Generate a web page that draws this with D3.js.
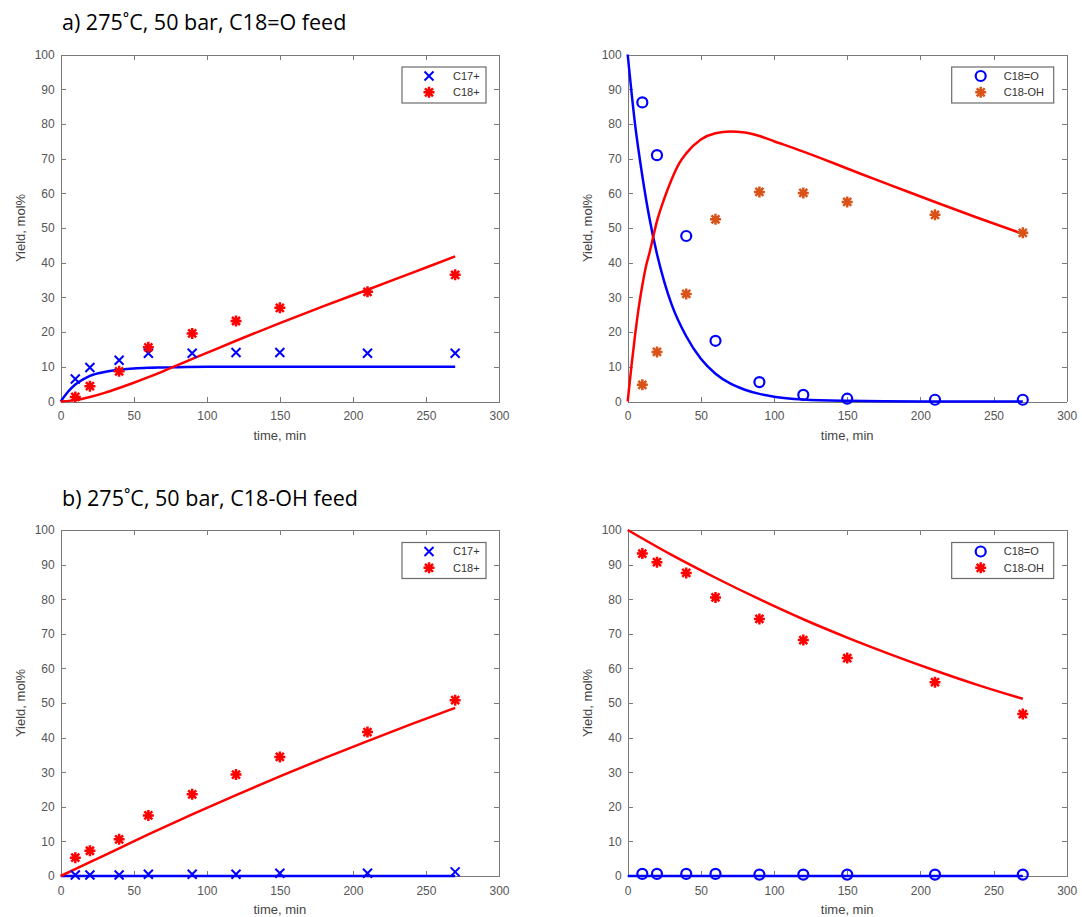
<!DOCTYPE html>
<meta charset="utf-8">
<style>
body { margin: 0; background: #fff; }
.axis path, .axis line { fill: none; stroke: #7a7a7a; shape-rendering: crispEdges; }
.axis text { fill: #555; font: 12px "Liberation Sans", Arial, sans-serif; }
.label { fill: #444; font: 13px "Liberation Sans", Arial, sans-serif; }
.title { fill: #000; font: 21.5px "Open Sans", sans-serif; }
.legend text { fill: #333; font: 11px "Liberation Sans", Arial, sans-serif; }
</style>
<body>
<script src="https://d3js.org/d3.v7.min.js"></script>
<script>

// sample times, min
var times = [10, 20, 40, 60, 90, 120, 150, 210, 270];

// a) C18=O feed - measured
var aC17 = [6.5, 9.8, 11.9, 13.9, 13.9, 14.1, 14.1, 13.9, 13.9];
var aC18 = [1.3, 4.4, 8.7, 15.6, 19.6, 23.2, 27.0, 31.6, 36.5];
var aC18O = [86.2, 71.0, 47.7, 17.5, 5.6, 1.9, 0.8, 0.5, 0.5];
var aC18OH = [4.8, 14.3, 31.0, 52.5, 60.4, 60.1, 57.5, 53.8, 48.6];

// a) model curves
var aC17FitT = [0, 5, 10, 15, 20, 30, 40, 50, 60, 70, 80, 100, 150, 200, 270];
var aC17Fit = [0, 2.8, 4.9, 6.3, 7.4, 8.5, 9.1, 9.5, 9.7, 9.8, 9.9, 10, 10, 10, 10];
var aC18FitT = [0, 10, 20, 30, 40, 50, 60, 70, 80, 100, 120, 150, 180, 210, 240, 270];
var aC18Fit = [0, 0.4, 1.3, 2.5, 3.9, 5.4, 7.0, 8.7, 10.5, 14.0, 17.5, 22.6, 27.5, 32.2, 37.0, 41.8];
var aC18OFitT = [0, 5, 10, 15, 20, 25, 30, 40, 50, 60, 70, 80, 90, 100, 120, 150, 200, 270];
var aC18OFit = [100, 80, 65, 52.5, 42.5, 34.5, 28, 18.8, 12.3, 8, 5.2, 3.4, 2.2, 1.4, 0.6, 0.2, 0, 0];
var aC18OHFitT = [0, 2.5, 5, 7.5, 10, 12.5, 15, 20, 25, 30, 35, 40, 50, 60, 70, 80, 90, 100, 120, 140, 160, 180, 210, 240, 270];
var aC18OHFit = [0, 10, 19, 27, 33.5, 39, 43, 52, 58.5, 64, 68.5, 71.5, 75.5, 77.3, 77.8, 77.5, 76.5, 75, 72, 68.8, 65.5, 62.3, 57.5, 52.8, 48.3];

// b) C18-OH feed - measured
var bC17 = [0.3, 0.3, 0.3, 0.5, 0.5, 0.5, 0.8, 0.8, 1.2];
var bC18 = [5.3, 7.3, 10.6, 17.5, 23.6, 29.3, 34.4, 41.6, 50.8];
var bC18O = [0.6, 0.6, 0.6, 0.6, 0.4, 0.4, 0.4, 0.4, 0.4];
var bC18OH = [93.2, 90.7, 87.6, 80.5, 74.3, 68.2, 63.0, 56.0, 46.8];

// b) model curves
var bFitT = [0, 20, 40, 60, 90, 120, 150, 180, 210, 240, 270];
var bC17Fit = [0, 0, 0, 0, 0, 0, 0, 0, 0, 0, 0];
var bC18Fit = [0, 4.0, 8.0, 12.0, 17.8, 23.4, 28.8, 34.0, 39.0, 43.9, 48.6];
var bC18OFit = [0, 0, 0, 0, 0, 0, 0, 0, 0, 0, 0];
var bC18OHFitT = [0, 30, 60, 90, 120, 150, 180, 210, 240, 270];
var bC18OHFit = [100, 92.8, 86.2, 80, 74.2, 68.9, 64, 59.4, 55.1, 51.2];

var xTicks = [0, 50, 100, 150, 200, 250, 300];
var yTicks = [0, 10, 20, 30, 40, 50, 60, 70, 80, 90, 100];

var blue = "#0000ff", red = "#ff0000", orange = "#d95319";

var svg = d3.select("body").append("svg")
    .attr("width", 1082)
    .attr("height", 917);

svg.append("rect").attr("width", 1082).attr("height", 917).attr("fill", "#fff");

svg.append("text").attr("class", "title").attr("x", 62).attr("y", 30)
    .text("a) 275\u02DAC, 50 bar, C18=O feed");
svg.append("text").attr("class", "title").attr("x", 62).attr("y", 506)
    .text("b) 275\u02DAC, 50 bar, C18-OH feed");

function zip(t, v) { return t.map(function(d, i) { return [d, v[i]]; }); }

function marker(g, type, color, cx, cy) {
  if (type == "x") {
    g.append("path").attr("d", "M-4.5,-4.5L4.5,4.5M-4.5,4.5L4.5,-4.5")
      .attr("transform", "translate(" + cx + "," + cy + ")")
      .attr("stroke", color).attr("stroke-width", 2).attr("fill", "none");
  } else if (type == "o") {
    g.append("circle").attr("cx", cx).attr("cy", cy).attr("r", 5)
      .attr("stroke", color).attr("stroke-width", 2.2).attr("fill", "none");
  } else {
    g.append("path").attr("d", "M0,-5.5L0,5.5M-5.5,0L5.5,0M-4,-4L4,4M-4,4L4,-4")
      .attr("transform", "translate(" + cx + "," + cy + ")")
      .attr("stroke", color).attr("stroke-width", 2.5).attr("fill", "none");
  }
}

function panel(p) {
  var x = d3.scaleLinear().domain([0, 300]).range([p.x0, p.x1]);
  var y = d3.scaleLinear().domain([0, 100]).range([p.y1, p.y0]);
  var g = svg.append("g");

  g.append("g").attr("class", "axis")
      .attr("transform", "translate(0," + p.y1 + ")")
      .call(d3.axisBottom(x).tickValues(xTicks).tickSizeInner(-5).tickSizeOuter(0).tickPadding(10));
  g.append("g").attr("class", "axis")
      .attr("transform", "translate(0," + p.y0 + ")")
      .call(d3.axisTop(x).tickValues(xTicks).tickSizeInner(-5).tickSizeOuter(0).tickFormat(""));
  g.append("g").attr("class", "axis")
      .attr("transform", "translate(" + p.x0 + ",0)")
      .call(d3.axisLeft(y).tickValues(yTicks).tickSizeInner(-5).tickSizeOuter(0).tickPadding(6));
  g.append("g").attr("class", "axis")
      .attr("transform", "translate(" + p.x1 + ",0)")
      .call(d3.axisRight(y).tickValues(yTicks).tickSizeInner(-5).tickSizeOuter(0).tickFormat(""));

  g.append("text").attr("class", "label")
      .attr("x", (p.x0 + p.x1) / 2).attr("y", p.y1 + 38)
      .attr("text-anchor", "middle").text("time, min");
  g.append("text").attr("class", "label")
      .attr("transform", "translate(" + (p.x0 - 36) + "," + ((p.y0 + p.y1) / 2) + ") rotate(-90)")
      .attr("text-anchor", "middle").text("Yield, mol%");

  var line = d3.line().x(function(d) { return x(d[0]); }).y(function(d) { return y(d[1]); })
      .curve(d3.curveMonotoneX);

  p.series.forEach(function(s) {
    g.append("path").datum(zip(s.fitT, s.fit))
      .attr("d", line).attr("fill", "none")
      .attr("stroke", s.lineColor).attr("stroke-width", 2.5);
  });
  p.series.forEach(function(s) {
    times.forEach(function(t, i) {
      marker(g, s.type, s.color, x(t), y(s.data[i]));
    });
  });

  // legend
  var lw = p.legendW, lx = p.x1 - 13 - lw, ly = p.y0 + 12.5;
  var leg = g.append("g").attr("class", "legend");
  leg.append("rect").attr("x", lx).attr("y", ly).attr("width", lw).attr("height", 36)
    .attr("fill", "#fff").attr("stroke", "#6b6b6b").attr("stroke-width", 1.2);
  p.series.forEach(function(s, i) {
    var yy = ly + 9 + i * 16.3;
    marker(leg, s.type, s.color, lx + p.legendM, yy);
    leg.append("text").attr("x", lx + p.legendT).attr("y", yy).attr("dy", "0.35em").text(s.name);
  });
}

var L = {x0: 60.7, x1: 499}, R = {x0: 627.7, x1: 1066.7};
var T = {y0: 54.5, y1: 401.5}, B = {y0: 530, y1: 876};

panel({x0: L.x0, x1: L.x1, y0: T.y0, y1: T.y1, legendW: 84, legendM: 27, legendT: 51, series: [
  {name: "C17+", type: "x", color: blue, lineColor: blue, data: aC17, fitT: aC17FitT, fit: aC17Fit},
  {name: "C18+", type: "*", color: red, lineColor: red, data: aC18, fitT: aC18FitT, fit: aC18Fit}
]});
panel({x0: R.x0, x1: R.x1, y0: T.y0, y1: T.y1, legendW: 102, legendM: 29, legendT: 52, series: [
  {name: "C18=O", type: "o", color: blue, lineColor: blue, data: aC18O, fitT: aC18OFitT, fit: aC18OFit},
  {name: "C18-OH", type: "*", color: orange, lineColor: red, data: aC18OH, fitT: aC18OHFitT, fit: aC18OHFit}
]});
panel({x0: L.x0, x1: L.x1, y0: B.y0, y1: B.y1, legendW: 84, legendM: 27, legendT: 51, series: [
  {name: "C17+", type: "x", color: blue, lineColor: blue, data: bC17, fitT: bFitT, fit: bC17Fit},
  {name: "C18+", type: "*", color: red, lineColor: red, data: bC18, fitT: bFitT, fit: bC18Fit}
]});
panel({x0: R.x0, x1: R.x1, y0: B.y0, y1: B.y1, legendW: 102, legendM: 29, legendT: 52, series: [
  {name: "C18=O", type: "o", color: blue, lineColor: blue, data: bC18O, fitT: bFitT, fit: bC18OFit},
  {name: "C18-OH", type: "*", color: red, lineColor: red, data: bC18OH, fitT: bC18OHFitT, fit: bC18OHFit}
]});

</script>
